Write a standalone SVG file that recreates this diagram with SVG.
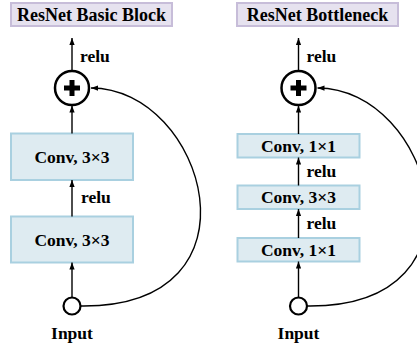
<svg xmlns="http://www.w3.org/2000/svg" width="417" height="347" viewBox="0 0 417 347">
  <defs>
    <marker id="arrow" viewBox="0 0 8 6" refX="8" refY="3" markerWidth="7" markerHeight="5.5" markerUnits="userSpaceOnUse" orient="auto">
      <path d="M0,0 L8,3 L0,6 z" fill="#000"/>
    </marker>
    <style>
      text { font-family: "Liberation Serif", "Times New Roman", serif; font-weight: bold; fill: #000; }
      .title-box { fill: #e6e2ef; stroke: #c7bdd9; stroke-width: 2; }
      .title { font-size: 18px; text-anchor: middle; }
      .conv { fill: #deebf1; stroke: #a9d0e0; stroke-width: 2; }
      .lbl { font-size: 17.5px; text-anchor: middle; }
      .relu { font-size: 17.5px; }
      .sum { fill: #fff; stroke: #000; stroke-width: 2.5; }
      .plus { fill: #000; }
      .inp { fill: #fff; stroke: #000; stroke-width: 2.2; }
      .edge { fill: none; stroke: #000; stroke-width: 1.4; marker-end: url(#arrow); }
    </style>
  </defs>

  <!-- Left: basic block -->
  <g id="title-basic">
    <rect class="title-box" x="11" y="3" width="161" height="23"/>
    <text class="title" x="91.5" y="20.5">ResNet Basic Block</text>
  </g>
  <g id="basic-sum">
    <circle class="sum" cx="72" cy="88" r="17"/>
    <path class="plus" d="M69.5,80 h5 v5.5 h5.5 v5 h-5.5 v5.5 h-5 v-5.5 h-5.5 v-5 h5.5 z"/>
  </g>
  <g id="basic-conv2">
    <rect class="conv" x="11" y="133.5" width="122" height="46.5"/>
    <text class="lbl" x="72" y="162.5">Conv, 3×3</text>
  </g>
  <g id="basic-conv1">
    <rect class="conv" x="11" y="216.5" width="122" height="46"/>
    <text class="lbl" x="72" y="245.5">Conv, 3×3</text>
  </g>
  <g id="basic-input">
    <circle class="inp" cx="72" cy="306" r="8.5"/>
    <text class="lbl" x="72" y="339">Input</text>
  </g>

  <!-- Right: bottleneck block -->
  <g id="title-bottleneck">
    <rect class="title-box" x="237" y="3" width="161" height="23"/>
    <text class="title" x="317.5" y="20.5">ResNet Bottleneck</text>
  </g>
  <g id="bottleneck-sum">
    <circle class="sum" cx="298.5" cy="88" r="17"/>
    <path class="plus" d="M296,80 h5 v5.5 h5.5 v5 h-5.5 v5.5 h-5 v-5.5 h-5.5 v-5 h5.5 z"/>
  </g>
  <g id="bottleneck-conv3">
    <rect class="conv" x="237.5" y="134" width="122" height="23.5"/>
    <text class="lbl" x="298.5" y="151.8">Conv, 1×1</text>
  </g>
  <g id="bottleneck-conv2">
    <rect class="conv" x="237.5" y="185.5" width="122" height="23.5"/>
    <text class="lbl" x="298.5" y="203.3">Conv, 3×3</text>
  </g>
  <g id="bottleneck-conv1">
    <rect class="conv" x="237.5" y="238" width="122" height="23.5"/>
    <text class="lbl" x="298.5" y="255.8">Conv, 1×1</text>
  </g>
  <g id="bottleneck-input">
    <circle class="inp" cx="298.5" cy="306" r="8.5"/>
    <text class="lbl" x="298.5" y="339">Input</text>
  </g>

  <!-- Connectors -->
  <g id="connectors">
    <line class="edge" x1="72" y1="71" x2="72" y2="38"/>
    <line class="edge" x1="72" y1="133.5" x2="72" y2="105.5"/>
    <line class="edge" x1="72" y1="216.5" x2="72" y2="180"/>
    <line class="edge" x1="72" y1="297.5" x2="72" y2="262.5"/>
    <path class="edge" d="M81,306 C270,308 205,88 91,88"/>

    <line class="edge" x1="298.5" y1="71" x2="298.5" y2="38"/>
    <line class="edge" x1="298.5" y1="134" x2="298.5" y2="105.5"/>
    <line class="edge" x1="298.5" y1="185.5" x2="298.5" y2="157.5"/>
    <line class="edge" x1="298.5" y1="238" x2="298.5" y2="209"/>
    <line class="edge" x1="298.5" y1="297.5" x2="298.5" y2="261.5"/>
    <path class="edge" d="M307.5,306 C496.5,308 431.5,88 317.5,88"/>

    <text class="relu" x="80" y="62">relu</text>
    <text class="relu" x="81" y="203">relu</text>
    <text class="relu" x="306.5" y="62">relu</text>
    <text class="relu" x="306.5" y="177">relu</text>
    <text class="relu" x="306.5" y="228.5">relu</text>
  </g>
</svg>
